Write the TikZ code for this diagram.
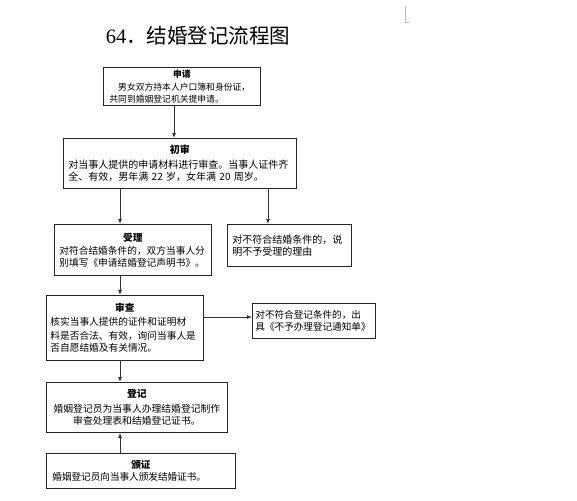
\documentclass[tikz,border=0pt]{standalone}
\usepackage{fontspec}
\setmainfont{Noto Sans CJK SC}
\newfontfamily\digitfont{Liberation Serif}
\usetikzlibrary{arrows.meta}
\tikzset{
  x=1pt, y=-1pt,
  box/.style={draw=black!85, line width=0.8pt, rectangle, anchor=north west,
    inner xsep=7pt, inner ysep=0pt, align=left},
  arr/.style={draw=black!80, line width=0.8pt, -{Latex[length=5pt,width=4pt]}},
  cornermark/.style={draw=black!25, line width=0.8pt}
}
\newcommand{\boxtitle}[1]{{\centering\bfseries #1\par}}
\begin{document}
\begin{tikzpicture}
\useasboundingbox (0,0) rectangle (577,500);
% page corner mark
\draw[cornermark] (405,6) -- (405,22.5) -- (408.5,22.5);
% title
\node (title) at (198,36) {\fontsize{20.5}{24}\selectfont{\digitfont 64}．结婚登记流程图};
% boxes
\node[box, minimum width=157pt, minimum height=38pt, text width=145pt, inner xsep=6pt] (b1) at (103,67)
  {\fontsize{8.8}{12.5}\selectfont\boxtitle{申请}\hspace*{1em}男女双方持本人户口簿和身份证，\\共同到婚姻登记机关提申请。};
\node[box, minimum width=233pt, minimum height=50pt, text width=223pt, inner xsep=5pt] (b2) at (63,138)
  {\fontsize{10}{15}\selectfont\boxtitle{初审}对当事人提供的申请材料进行审查。当事人证件齐\\全、有效，男年满 22 岁，女年满 20 周岁。};
\node[box, minimum width=157pt, minimum height=51pt, text width=147pt, inner xsep=5pt] (b3) at (54,224)
  {\fontsize{9.7}{13}\selectfont\boxtitle{受理}对符合结婚条件的，双方当事人分\\别填写《申请结婚登记声明书》。};
\node[box, minimum width=124pt, minimum height=42pt, text width=114pt, inner xsep=5pt] (b4) at (227,224)
  {\fontsize{10}{15}\selectfont 对不符合结婚条件的，说\\明不予受理的理由};
\node[box, minimum width=157pt, minimum height=65pt, text width=149pt, inner xsep=4pt] (b5) at (46,295)
  {\fontsize{9.7}{14}\selectfont\boxtitle{审查}核实当事人提供的证件和证明材\\料是否合法、有效，询问当事人是\\否自愿结婚及有关情况。};
\node[box, minimum width=123pt, minimum height=35pt, text width=117pt, inner xsep=3pt] (b6) at (252,303)
  {\fontsize{9.6}{13}\selectfont 对不符合登记条件的，出\\具《不予办理登记通知单》};
\node[box, minimum width=181pt, minimum height=50pt, text width=173pt, inner xsep=4pt, align=center] (b7) at (46,382)
  {\fontsize{9.8}{14.5}\selectfont{\bfseries 登记}\\婚姻登记员为当事人办理结婚登记制作\\审查处理表和结婚登记证书。};
\node[box, minimum width=189pt, minimum height=35pt, text width=177pt, inner xsep=6pt] (b8) at (46,453)
  {\fontsize{9.6}{14}\selectfont\boxtitle{颁证}婚姻登记员向当事人颁发结婚证书。};
% connector x positions
\coordinate (x1) at (174,0);
\coordinate (x2) at (120,0);
\coordinate (x3) at (268,0);
\coordinate (y5) at (0,317);
% connectors
\draw[arr] (b1.south -| x1) -- (b2.north -| x1);
\draw[arr] (b2.south -| x2) -- (b3.north -| x2);
\draw[arr] (b2.south -| x3) -- (b4.north -| x3);
\draw[arr] (b3.south -| x2) -- (b5.north -| x2);
\draw[arr] (b5.east |- y5) -- (b6.west |- y5);
\draw[arr] (b5.south -| x2) -- (b7.north -| x2);
\draw[arr] (b8.north -| x2) -- (b7.south -| x2);
\end{tikzpicture}
\end{document}
